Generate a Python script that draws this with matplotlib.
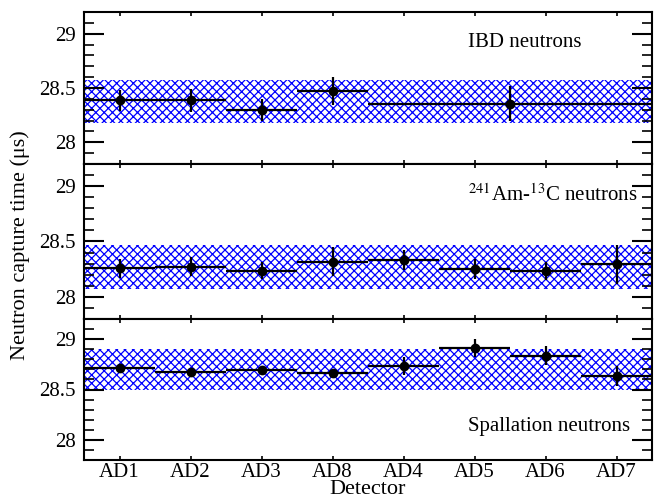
import matplotlib
matplotlib.use("Agg")
import matplotlib.pyplot as plt
import numpy as np
from matplotlib.ticker import MultipleLocator

plt.rcParams['font.family'] = ['Liberation Serif', 'DejaVu Serif']
plt.rcParams['mathtext.fontset'] = 'stix'
plt.rcParams['hatch.linewidth'] = 0.9
plt.rcParams['hatch.color'] = '#0000ff'

detectors = ["AD1", "AD2", "AD3", "AD8", "AD4", "AD5", "AD6", "AD7"]

# IBD panel: per-point center, half-width (in detector bins), value, error
ibd_x = [0.5, 1.5, 2.5, 3.5, 6.0]
ibd_xerr = [0.5, 0.5, 0.5, 0.5, 2.0]
ibd_val = [28.385, 28.385, 28.30, 28.47, 28.355]
ibd_err = [0.10, 0.11, 0.10, 0.13, 0.16]
ibd_band = (28.177, 28.578)

amc_val = [28.258, 28.273, 28.237, 28.318, 28.333, 28.252, 28.234, 28.294]
amc_err = [0.085, 0.085, 0.08, 0.13, 0.087, 0.09, 0.083, 0.175]
amc_band = (28.069, 28.468)

spa_val = [28.716, 28.676, 28.693, 28.66, 28.737, 28.91, 28.836, 28.636]
spa_err = [0.02, 0.02, 0.02, 0.02, 0.09, 0.09, 0.095, 0.10]
spa_band = (28.493, 28.90)

labels = ["IBD neutrons", r"$^{241}$Am-$^{13}$C neutrons", "Spallation neutrons"]
label_y = [0.8, 0.8, 0.24]

W, H = 662, 497
fig = plt.figure(figsize=(W / 100, H / 100), dpi=100)

left = 84 / W
width = (652 - 84) / W
edges = [12, 164, 319, 460]

n = len(detectors)
xc = np.arange(n) + 0.5
panels = [
    (ibd_x, ibd_xerr, ibd_val, ibd_err, ibd_band),
    (list(xc), [0.5] * n, amc_val, amc_err, amc_band),
    (list(xc), [0.5] * n, spa_val, spa_err, spa_band),
]

axes = []
for i, (xs, xe, v, e, band) in enumerate(panels):
    top, bot = edges[i], edges[i + 1]
    ax = fig.add_axes([left, 1 - bot / H, width, (bot - top) / H])
    axes.append(ax)
    ax.fill_between([0, n], band[0], band[1], facecolor='white', edgecolor='#0000ff',
                    hatch='xxxx', linewidth=0, zorder=1)
    ax.errorbar(xs, v, yerr=e, xerr=xe, fmt='o', color='black', markersize=6,
                elinewidth=1.6, capsize=0, zorder=3)
    ax.set_xlim(0, n)
    ax.set_ylim(27.8, 29.2)
    ax.yaxis.set_minor_locator(MultipleLocator(0.1))
    ax.set_yticks([28, 28.5, 29])
    ax.set_yticklabels(["28", "28.5", "29"])
    ax.set_xticks(xc)
    if i == 2:
        ax.set_xticklabels(detectors)
    else:
        ax.set_xticklabels([])
    ax.tick_params(axis='y', which='major', direction='in', length=14.5, width=1.5,
                   left=True, right=True, labelsize=15, pad=6)
    ax.tick_params(axis='y', which='minor', direction='in', length=7, width=1.2,
                   left=True, right=True)
    ax.tick_params(axis='x', which='major', direction='in', length=3, width=1.2,
                   top=True, bottom=True, labelsize=15, pad=2)
    for s in ax.spines.values():
        s.set_linewidth(1.5)
    ax.text(0.676, label_y[i], labels[i], transform=ax.transAxes, fontsize=15,
            ha='left', va='center')

fig.text(368 / W, 1 - 489 / H, "Detector", ha='center', va='center', fontsize=16)
fig.text(20 / W, 1 - 245 / H, "Neutron capture time (μs)", ha='center', va='center',
         rotation=90, fontsize=16)

fig.savefig("out.png", dpi=100)
